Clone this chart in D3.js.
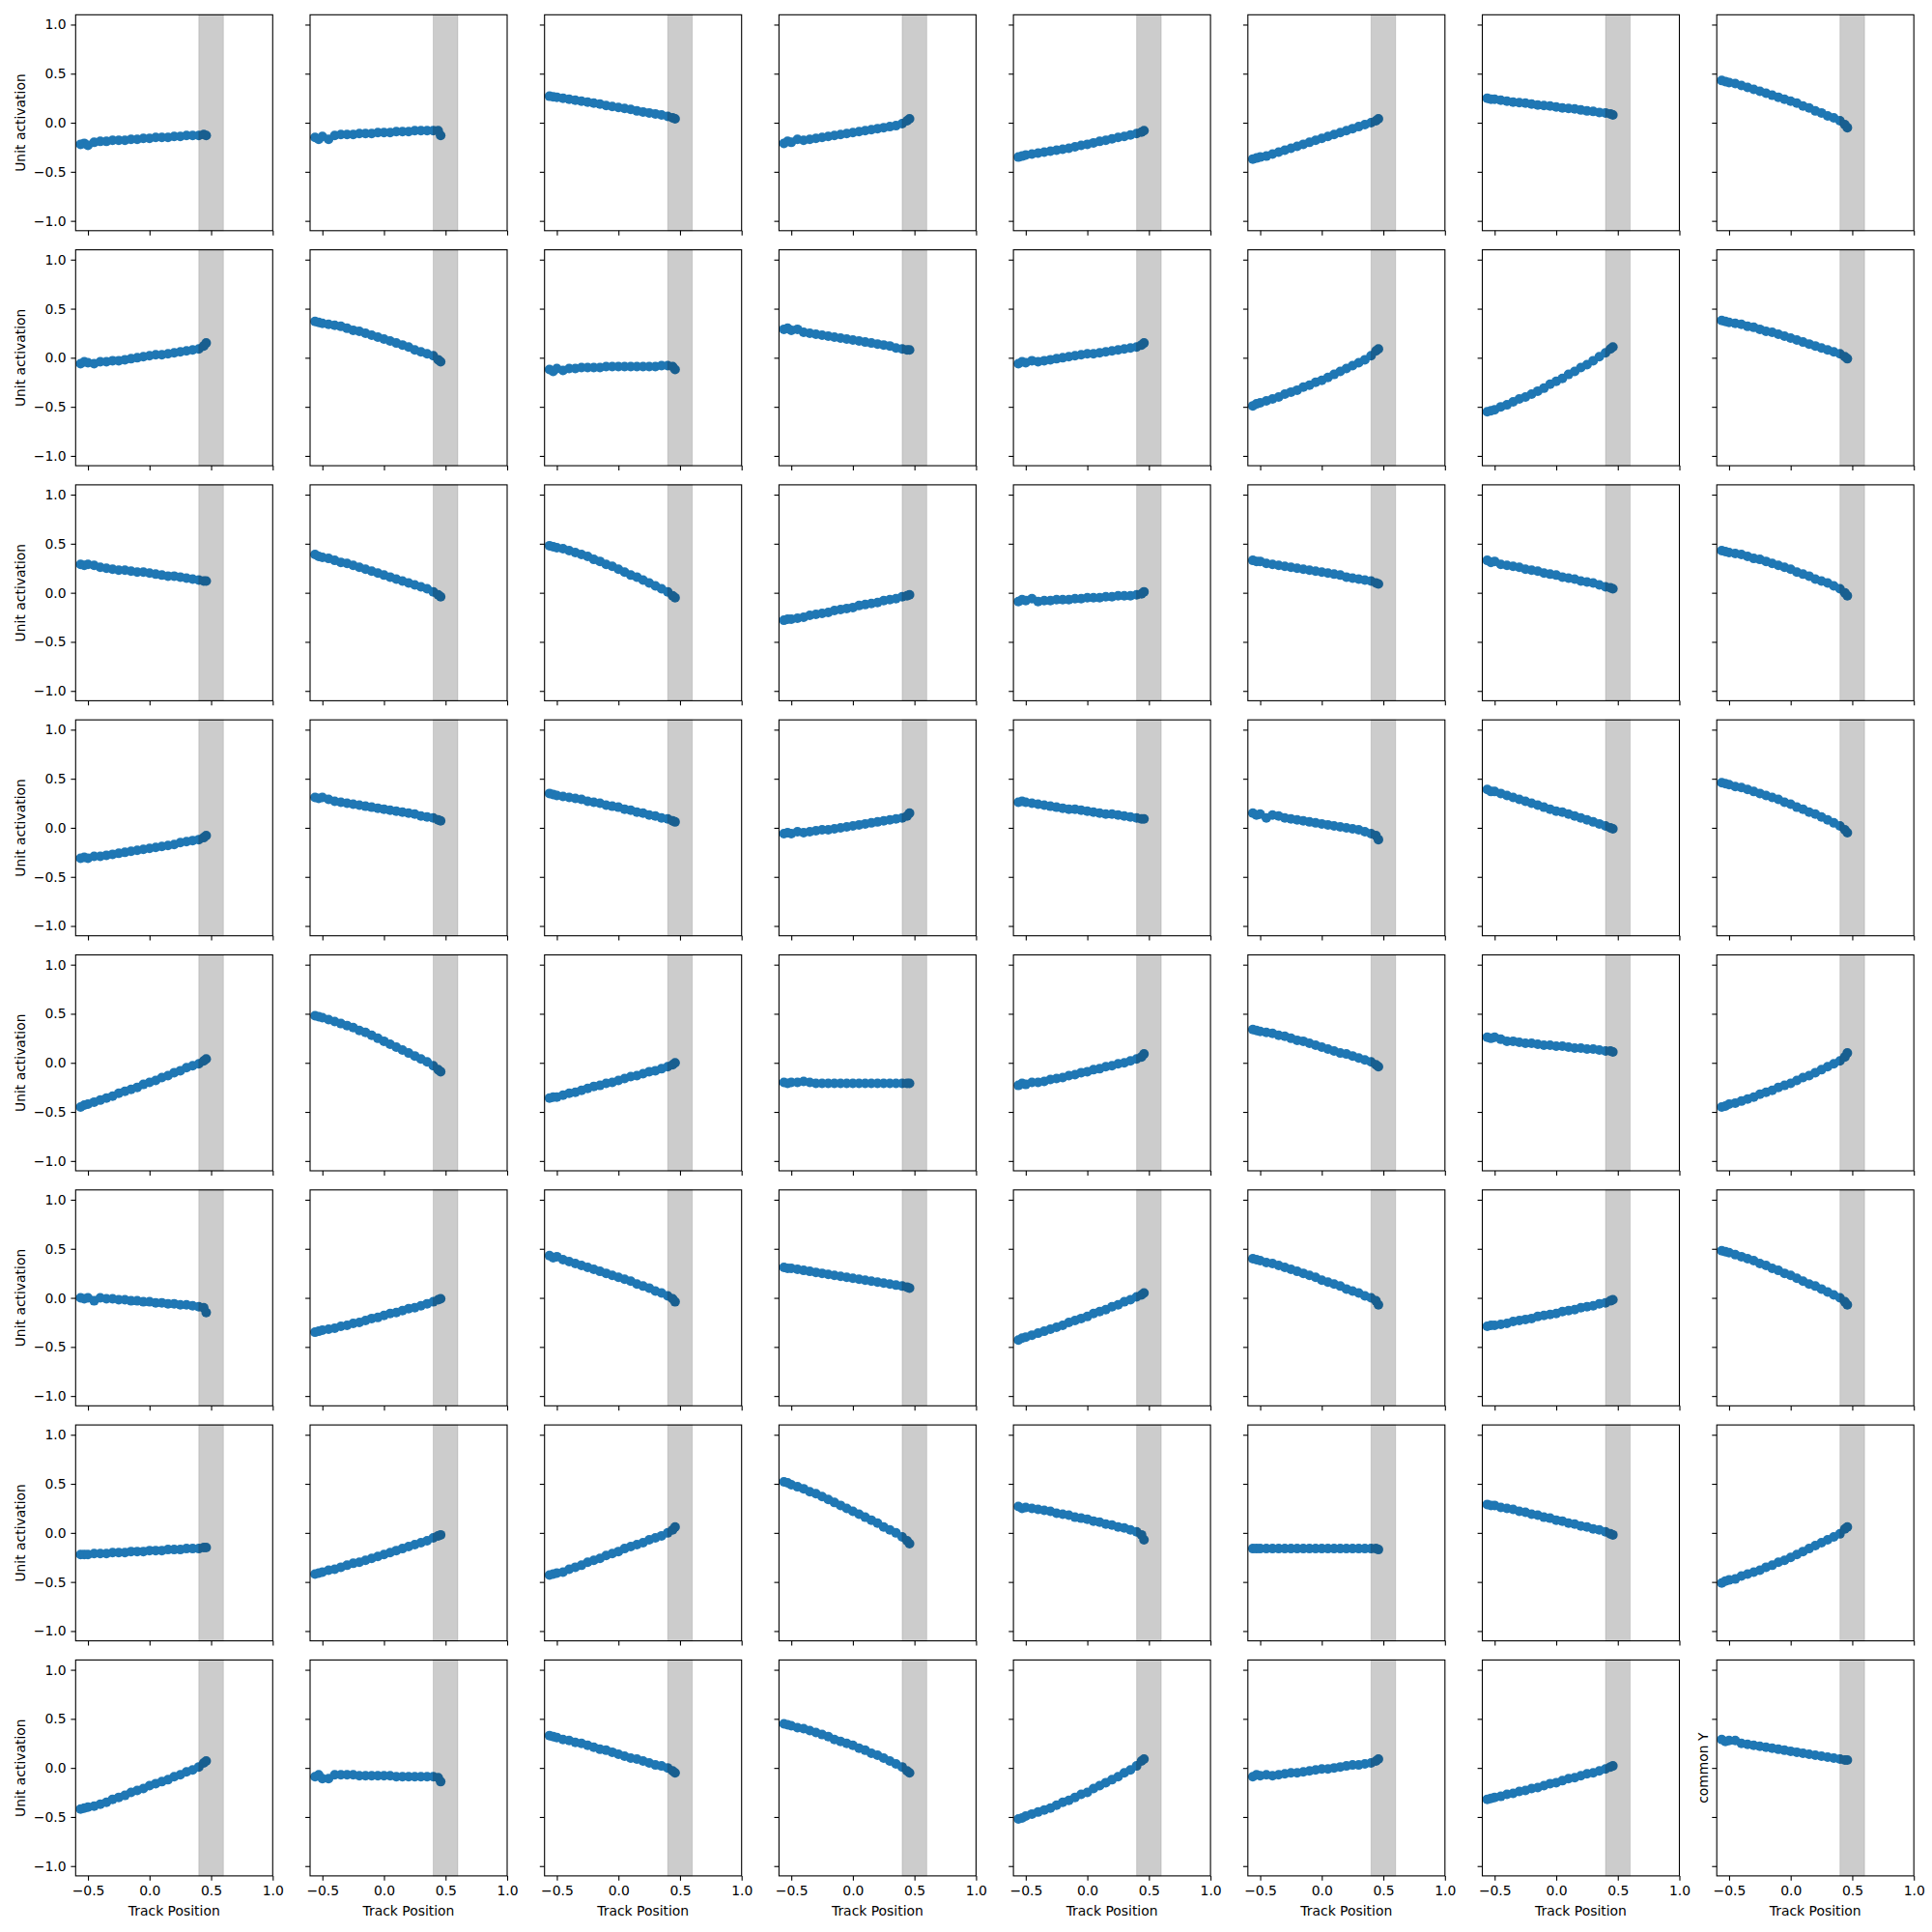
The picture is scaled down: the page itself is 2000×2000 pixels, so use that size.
<!DOCTYPE html>
<html>
<head>
<meta charset="utf-8">
<script src="https://cdn.jsdelivr.net/npm/d3@7"></script>
<style>
  body { margin: 0; background: #fff; }
  svg { display: block; }
  text { font-family: "DejaVu Sans", sans-serif; }
</style>
</head>
<body>
<svg id="chart" width="2000" height="2000"></svg>
<script>
// ---- data ----
const trackPositions = [-0.56,-0.53,-0.50,-0.45,-0.40,-0.35,-0.30,-0.25,-0.20,-0.15,-0.10,-0.05,0.00,0.05,0.10,0.15,0.20,0.25,0.30,0.35,0.40,0.44,0.46];

const row1Units = [
  [-0.22,-0.21,-0.23,-0.20,-0.19,-0.19,-0.18,-0.18,-0.18,-0.17,-0.17,-0.16,-0.16,-0.15,-0.15,-0.15,-0.14,-0.14,-0.13,-0.13,-0.13,-0.12,-0.13],
  [-0.15,-0.17,-0.14,-0.17,-0.13,-0.12,-0.12,-0.12,-0.11,-0.11,-0.11,-0.10,-0.10,-0.10,-0.09,-0.09,-0.09,-0.08,-0.08,-0.08,-0.08,-0.08,-0.13],
  [0.27,0.265,0.26,0.25,0.24,0.23,0.22,0.21,0.20,0.19,0.175,0.165,0.155,0.145,0.135,0.12,0.11,0.10,0.09,0.08,0.065,0.05,0.04],
  [-0.21,-0.19,-0.20,-0.17,-0.18,-0.17,-0.16,-0.15,-0.14,-0.13,-0.12,-0.11,-0.10,-0.09,-0.08,-0.07,-0.06,-0.05,-0.04,-0.03,-0.01,0.02,0.04],
  [-0.35,-0.34,-0.33,-0.32,-0.31,-0.30,-0.29,-0.28,-0.27,-0.26,-0.245,-0.23,-0.22,-0.205,-0.19,-0.18,-0.165,-0.15,-0.14,-0.125,-0.11,-0.095,-0.08],
  [-0.37,-0.36,-0.35,-0.34,-0.32,-0.30,-0.28,-0.26,-0.24,-0.22,-0.20,-0.18,-0.16,-0.14,-0.12,-0.10,-0.08,-0.06,-0.04,-0.02,0.00,0.02,0.04],
  [0.25,0.24,0.24,0.23,0.22,0.21,0.205,0.20,0.19,0.18,0.175,0.17,0.16,0.15,0.145,0.14,0.13,0.12,0.115,0.105,0.10,0.09,0.08],
  [0.43,0.42,0.41,0.40,0.38,0.36,0.34,0.32,0.30,0.28,0.26,0.24,0.22,0.20,0.17,0.15,0.12,0.10,0.07,0.05,0.02,-0.02,-0.05]
];
const row2Units = [
  [-0.06,-0.04,-0.05,-0.06,-0.04,-0.04,-0.03,-0.03,-0.02,-0.01,0.00,0.01,0.02,0.03,0.03,0.04,0.05,0.06,0.07,0.08,0.09,0.12,0.15],
  [0.37,0.36,0.35,0.34,0.33,0.32,0.30,0.28,0.27,0.25,0.23,0.21,0.19,0.17,0.15,0.13,0.11,0.08,0.06,0.04,0.02,-0.02,-0.04],
  [-0.12,-0.14,-0.11,-0.13,-0.11,-0.11,-0.10,-0.10,-0.10,-0.10,-0.09,-0.09,-0.09,-0.09,-0.09,-0.09,-0.09,-0.09,-0.09,-0.08,-0.08,-0.09,-0.12],
  [0.29,0.30,0.28,0.29,0.26,0.25,0.24,0.23,0.22,0.21,0.20,0.19,0.18,0.17,0.16,0.15,0.14,0.13,0.12,0.10,0.09,0.08,0.08],
  [-0.06,-0.04,-0.05,-0.03,-0.04,-0.03,-0.02,-0.01,0.00,0.01,0.02,0.03,0.04,0.04,0.05,0.06,0.07,0.08,0.09,0.10,0.11,0.13,0.15],
  [-0.49,-0.47,-0.46,-0.44,-0.42,-0.40,-0.37,-0.35,-0.33,-0.30,-0.28,-0.25,-0.23,-0.20,-0.17,-0.14,-0.11,-0.08,-0.05,-0.02,0.02,0.07,0.09],
  [-0.55,-0.54,-0.53,-0.50,-0.48,-0.45,-0.42,-0.40,-0.37,-0.34,-0.31,-0.27,-0.24,-0.21,-0.17,-0.14,-0.10,-0.07,-0.03,0.01,0.05,0.09,0.11],
  [0.38,0.37,0.36,0.35,0.34,0.32,0.31,0.29,0.27,0.26,0.24,0.22,0.20,0.18,0.16,0.14,0.12,0.10,0.08,0.06,0.04,0.01,-0.01]
];
const row3Units = [
  [0.29,0.28,0.29,0.28,0.26,0.25,0.24,0.23,0.23,0.22,0.21,0.21,0.20,0.19,0.18,0.17,0.17,0.16,0.15,0.14,0.13,0.12,0.12],
  [0.39,0.37,0.36,0.35,0.33,0.31,0.30,0.28,0.26,0.24,0.22,0.20,0.18,0.16,0.14,0.12,0.10,0.08,0.06,0.04,0.01,-0.02,-0.04],
  [0.48,0.47,0.46,0.45,0.43,0.41,0.39,0.37,0.34,0.32,0.29,0.27,0.24,0.21,0.18,0.16,0.13,0.10,0.07,0.04,0.01,-0.03,-0.05],
  [-0.28,-0.27,-0.27,-0.26,-0.25,-0.23,-0.22,-0.21,-0.20,-0.18,-0.17,-0.16,-0.15,-0.13,-0.12,-0.11,-0.10,-0.08,-0.07,-0.06,-0.04,-0.03,-0.02],
  [-0.09,-0.07,-0.08,-0.06,-0.09,-0.08,-0.08,-0.07,-0.07,-0.07,-0.06,-0.06,-0.05,-0.05,-0.05,-0.04,-0.04,-0.03,-0.03,-0.03,-0.02,-0.01,0.01],
  [0.33,0.32,0.32,0.30,0.29,0.28,0.27,0.26,0.25,0.24,0.23,0.22,0.21,0.20,0.19,0.18,0.16,0.15,0.14,0.13,0.12,0.10,0.09],
  [0.33,0.31,0.32,0.29,0.28,0.27,0.26,0.24,0.23,0.22,0.20,0.19,0.18,0.16,0.15,0.14,0.12,0.11,0.10,0.08,0.06,0.05,0.04],
  [0.43,0.42,0.41,0.40,0.39,0.37,0.35,0.34,0.32,0.30,0.28,0.26,0.24,0.21,0.19,0.17,0.14,0.12,0.10,0.07,0.04,0.00,-0.03]
];
const row4Units = [
  [-0.31,-0.30,-0.31,-0.29,-0.29,-0.28,-0.27,-0.26,-0.25,-0.24,-0.23,-0.22,-0.21,-0.20,-0.19,-0.18,-0.17,-0.15,-0.14,-0.13,-0.12,-0.10,-0.08],
  [0.31,0.30,0.31,0.29,0.27,0.26,0.25,0.24,0.23,0.22,0.21,0.20,0.19,0.18,0.17,0.16,0.15,0.14,0.12,0.11,0.10,0.08,0.07],
  [0.35,0.34,0.33,0.32,0.31,0.30,0.29,0.27,0.26,0.25,0.23,0.22,0.21,0.19,0.18,0.16,0.15,0.13,0.12,0.10,0.09,0.07,0.06],
  [-0.06,-0.05,-0.06,-0.04,-0.05,-0.04,-0.03,-0.02,-0.02,-0.01,0.00,0.01,0.02,0.03,0.04,0.05,0.06,0.07,0.08,0.09,0.10,0.12,0.15],
  [0.26,0.27,0.26,0.25,0.24,0.23,0.22,0.21,0.20,0.19,0.19,0.18,0.17,0.16,0.15,0.14,0.14,0.13,0.12,0.11,0.10,0.09,0.09],
  [0.15,0.13,0.14,0.10,0.13,0.12,0.10,0.09,0.08,0.07,0.06,0.05,0.04,0.03,0.02,0.01,0.00,-0.01,-0.02,-0.04,-0.06,-0.08,-0.12],
  [0.39,0.37,0.37,0.35,0.33,0.31,0.29,0.27,0.25,0.23,0.21,0.19,0.17,0.16,0.14,0.12,0.10,0.08,0.06,0.04,0.02,0.00,-0.01],
  [0.46,0.45,0.44,0.42,0.41,0.39,0.37,0.35,0.33,0.31,0.29,0.26,0.24,0.21,0.19,0.16,0.14,0.11,0.08,0.05,0.02,-0.02,-0.05]
];
const row5Units = [
  [-0.45,-0.43,-0.42,-0.40,-0.38,-0.36,-0.34,-0.31,-0.29,-0.27,-0.25,-0.22,-0.20,-0.18,-0.15,-0.13,-0.10,-0.08,-0.05,-0.03,-0.01,0.02,0.04],
  [0.48,0.47,0.46,0.44,0.42,0.40,0.38,0.36,0.33,0.31,0.28,0.25,0.22,0.19,0.16,0.13,0.10,0.07,0.04,0.01,-0.03,-0.07,-0.09],
  [-0.36,-0.35,-0.35,-0.33,-0.31,-0.30,-0.28,-0.26,-0.24,-0.23,-0.21,-0.20,-0.18,-0.16,-0.14,-0.13,-0.11,-0.09,-0.08,-0.06,-0.04,-0.02,0.00],
  [-0.20,-0.21,-0.20,-0.20,-0.19,-0.20,-0.21,-0.21,-0.21,-0.21,-0.21,-0.21,-0.21,-0.21,-0.21,-0.21,-0.21,-0.21,-0.21,-0.21,-0.21,-0.21,-0.21],
  [-0.23,-0.21,-0.22,-0.20,-0.20,-0.19,-0.17,-0.16,-0.15,-0.13,-0.12,-0.10,-0.09,-0.07,-0.06,-0.04,-0.03,-0.01,0.00,0.02,0.04,0.06,0.09],
  [0.34,0.33,0.32,0.31,0.30,0.28,0.27,0.25,0.23,0.22,0.20,0.18,0.16,0.14,0.12,0.10,0.09,0.07,0.05,0.03,0.01,-0.02,-0.04],
  [0.26,0.25,0.26,0.24,0.22,0.22,0.21,0.20,0.20,0.19,0.18,0.18,0.17,0.17,0.16,0.15,0.15,0.14,0.14,0.13,0.12,0.12,0.11],
  [-0.45,-0.44,-0.42,-0.41,-0.39,-0.37,-0.35,-0.32,-0.30,-0.28,-0.25,-0.23,-0.21,-0.18,-0.15,-0.13,-0.10,-0.07,-0.04,-0.01,0.02,0.06,0.10]
];
const row6Units = [
  [0.00,-0.01,0.00,-0.03,0.00,-0.01,-0.01,-0.02,-0.02,-0.03,-0.03,-0.04,-0.04,-0.05,-0.05,-0.06,-0.06,-0.07,-0.07,-0.08,-0.09,-0.10,-0.15],
  [-0.35,-0.34,-0.33,-0.32,-0.31,-0.29,-0.28,-0.26,-0.25,-0.23,-0.21,-0.20,-0.18,-0.16,-0.15,-0.13,-0.11,-0.10,-0.08,-0.06,-0.04,-0.02,-0.01],
  [0.43,0.41,0.42,0.39,0.37,0.35,0.33,0.31,0.29,0.27,0.25,0.23,0.21,0.19,0.17,0.14,0.12,0.10,0.07,0.05,0.02,-0.01,-0.04],
  [0.31,0.30,0.30,0.29,0.28,0.27,0.26,0.25,0.24,0.23,0.22,0.21,0.20,0.19,0.18,0.17,0.16,0.15,0.14,0.13,0.12,0.11,0.10],
  [-0.43,-0.41,-0.40,-0.38,-0.36,-0.34,-0.32,-0.30,-0.28,-0.25,-0.23,-0.21,-0.19,-0.16,-0.14,-0.12,-0.09,-0.07,-0.04,-0.02,0.01,0.03,0.05],
  [0.40,0.39,0.38,0.36,0.35,0.33,0.31,0.29,0.27,0.25,0.23,0.21,0.18,0.16,0.14,0.12,0.09,0.07,0.05,0.02,0.00,-0.03,-0.07],
  [-0.29,-0.28,-0.28,-0.27,-0.26,-0.24,-0.23,-0.22,-0.21,-0.19,-0.18,-0.17,-0.16,-0.14,-0.13,-0.12,-0.10,-0.09,-0.08,-0.06,-0.05,-0.03,-0.02],
  [0.48,0.47,0.46,0.44,0.42,0.40,0.38,0.35,0.33,0.30,0.28,0.25,0.23,0.20,0.17,0.14,0.12,0.09,0.06,0.03,0.00,-0.04,-0.07]
];
const row7Units = [
  [-0.22,-0.22,-0.22,-0.21,-0.21,-0.21,-0.20,-0.20,-0.20,-0.19,-0.19,-0.19,-0.18,-0.18,-0.18,-0.17,-0.17,-0.17,-0.16,-0.16,-0.16,-0.15,-0.15],
  [-0.42,-0.41,-0.40,-0.38,-0.37,-0.35,-0.33,-0.31,-0.30,-0.28,-0.26,-0.24,-0.22,-0.20,-0.18,-0.16,-0.14,-0.12,-0.10,-0.08,-0.05,-0.03,-0.02],
  [-0.43,-0.42,-0.41,-0.40,-0.37,-0.35,-0.33,-0.30,-0.28,-0.26,-0.23,-0.21,-0.19,-0.16,-0.14,-0.12,-0.10,-0.07,-0.05,-0.03,0.00,0.03,0.06],
  [0.52,0.51,0.49,0.47,0.45,0.42,0.40,0.37,0.34,0.31,0.28,0.25,0.22,0.19,0.16,0.13,0.10,0.06,0.03,0.00,-0.04,-0.08,-0.11],
  [0.27,0.25,0.26,0.25,0.24,0.23,0.22,0.20,0.19,0.18,0.16,0.15,0.14,0.12,0.11,0.09,0.08,0.06,0.05,0.03,0.01,-0.02,-0.07],
  [-0.16,-0.16,-0.16,-0.16,-0.16,-0.16,-0.16,-0.16,-0.16,-0.16,-0.16,-0.16,-0.16,-0.16,-0.16,-0.16,-0.16,-0.16,-0.16,-0.16,-0.16,-0.16,-0.17],
  [0.29,0.28,0.28,0.26,0.25,0.24,0.22,0.21,0.19,0.18,0.16,0.15,0.13,0.12,0.10,0.09,0.07,0.06,0.04,0.03,0.01,-0.01,-0.02],
  [-0.51,-0.49,-0.48,-0.47,-0.44,-0.42,-0.40,-0.38,-0.35,-0.33,-0.30,-0.28,-0.25,-0.22,-0.19,-0.16,-0.13,-0.10,-0.07,-0.04,-0.01,0.04,0.06]
];
const row8Units = [
  [-0.42,-0.41,-0.40,-0.39,-0.37,-0.35,-0.32,-0.30,-0.28,-0.25,-0.23,-0.21,-0.18,-0.16,-0.14,-0.12,-0.09,-0.07,-0.04,-0.02,0.01,0.05,0.07],
  [-0.09,-0.07,-0.11,-0.11,-0.07,-0.07,-0.07,-0.07,-0.08,-0.08,-0.08,-0.08,-0.08,-0.08,-0.09,-0.09,-0.09,-0.09,-0.09,-0.09,-0.09,-0.10,-0.14],
  [0.33,0.32,0.31,0.29,0.28,0.26,0.25,0.23,0.21,0.19,0.18,0.16,0.14,0.12,0.10,0.09,0.07,0.05,0.03,0.02,0.00,-0.03,-0.05],
  [0.45,0.44,0.43,0.41,0.40,0.38,0.36,0.34,0.32,0.29,0.27,0.25,0.23,0.20,0.18,0.15,0.13,0.10,0.07,0.04,0.01,-0.03,-0.05],
  [-0.52,-0.51,-0.49,-0.47,-0.45,-0.43,-0.41,-0.38,-0.35,-0.33,-0.30,-0.27,-0.25,-0.21,-0.18,-0.15,-0.12,-0.09,-0.05,-0.02,0.02,0.07,0.09],
  [-0.09,-0.07,-0.08,-0.07,-0.08,-0.07,-0.06,-0.05,-0.05,-0.04,-0.03,-0.02,-0.01,-0.01,0.00,0.01,0.02,0.03,0.03,0.04,0.05,0.07,0.09],
  [-0.32,-0.31,-0.30,-0.29,-0.27,-0.26,-0.24,-0.23,-0.21,-0.20,-0.18,-0.16,-0.15,-0.13,-0.11,-0.10,-0.08,-0.06,-0.05,-0.03,-0.01,0.01,0.02],
  [0.29,0.27,0.28,0.28,0.25,0.24,0.23,0.22,0.21,0.20,0.19,0.18,0.17,0.16,0.15,0.14,0.13,0.12,0.11,0.10,0.09,0.08,0.08]
];

const xTicks = [-0.5, 0.0, 0.5, 1.0];
const yTicks = [-1.0, -0.5, 0.0, 0.5, 1.0];
const xDomain = [-0.6, 1.0];
const yDomain = [-1.1, 1.1];
const bandRange = [0.4, 0.6];
const yLabel = "Unit activation";
const lastYLabel = "common Y";
const xLabel = "Track Position";

const rows = [row1Units,row2Units,row3Units,row4Units,row5Units,row6Units,row7Units,row8Units];

// ---- layout ----
const left0 = 78.3, colStep = 242.7, top0 = 15.3, rowStep = 243.3;
const panelW = 204, panelH = 223.5;
const tickLen = 4.9, tickPad = 4.9, fontPx = 13.9;
const blue = "#1f77b4";

const svg = d3.select("#chart");
const x = d3.scaleLinear().domain(xDomain).range([0, panelW]);
const y = d3.scaleLinear().domain(yDomain).range([panelH, 0]);
const fmt = d3.format(".1f");

const nRows = rows.length, nCols = rows[0].length;

rows.forEach((row, r) => {
  row.forEach((vals, c) => {
    const g = svg.append("g")
      .attr("transform", `translate(${left0 + c * colStep},${top0 + r * rowStep})`);

    // points
    g.append("g").selectAll("circle")
      .data(vals.map((v, i) => [trackPositions[i], v]))
      .join("circle")
      .attr("cx", d => x(d[0]))
      .attr("cy", d => y(d[1]))
      .attr("r", 5)
      .attr("fill", blue);

    // shaded band (drawn over points)
    g.append("rect")
      .attr("x", x(bandRange[0]))
      .attr("y", 0)
      .attr("width", x(bandRange[1]) - x(bandRange[0]))
      .attr("height", panelH)
      .attr("fill", "#000")
      .attr("fill-opacity", 0.2)
      .attr("stroke", "#000")
      .attr("stroke-opacity", 0.12)
      .attr("stroke-width", 1);

    // axes
    const ax = d3.axisBottom(x).tickValues(xTicks).tickSize(tickLen).tickSizeOuter(0).tickPadding(tickPad)
      .tickFormat(r === nRows - 1 ? fmt : () => "");
    const gx = g.append("g").attr("transform", `translate(0,${panelH})`).call(ax);
    const ay = d3.axisLeft(y).tickValues(yTicks).tickSize(tickLen).tickSizeOuter(0).tickPadding(tickPad)
      .tickFormat(c === 0 ? fmt : () => "");
    const gy = g.append("g").call(ay);
    [gx, gy].forEach(a => {
      a.select(".domain").remove();
      a.selectAll(".tick line").attr("stroke", "#000").attr("stroke-width", 1.1);
      a.selectAll(".tick text").attr("fill", "#000")
        .style("font-family", "'DejaVu Sans', sans-serif").style("font-size", fontPx + "px");
    });

    // spines
    g.append("rect")
      .attr("x", 0).attr("y", 0).attr("width", panelW).attr("height", panelH)
      .attr("fill", "none").attr("stroke", "#000").attr("stroke-width", 1.1);

    // labels
    if (c === 0) {
      g.append("text")
        .attr("transform", `translate(${-52.3},${panelH / 2}) rotate(-90)`)
        .attr("text-anchor", "middle")
        .style("font-size", fontPx + "px")
        .text(yLabel);
    }
    if (r === nRows - 1 && c === nCols - 1) {
      g.append("text")
        .attr("transform", `translate(${-9},${panelH / 2}) rotate(-90)`)
        .attr("text-anchor", "middle")
        .style("font-size", fontPx + "px")
        .text(lastYLabel);
    }
    if (r === nRows - 1) {
      g.append("text")
        .attr("x", panelW / 2)
        .attr("y", panelH + 40.7)
        .attr("text-anchor", "middle")
        .style("font-size", fontPx + "px")
        .text(xLabel);
    }
  });
});
</script>
</body>
</html>
